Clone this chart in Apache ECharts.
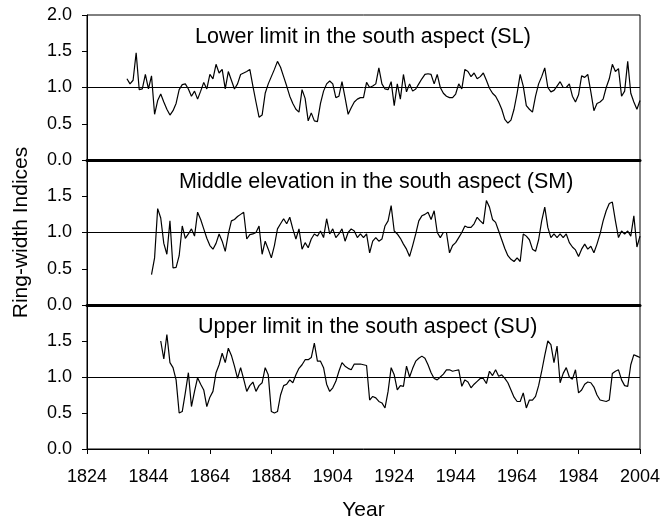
<!DOCTYPE html>
<html>
<head>
<meta charset="utf-8">
<script src="https://cdn.jsdelivr.net/npm/echarts@6/dist/echarts.min.js"></script>
<style>
  html, body { margin: 0; padding: 0; background: #fff; }
  #chart { width: 672px; height: 524px; }
</style>
</head>
<body>
<div id="chart"></div>
<script>
// x axis ticks (years)
const yearTicks = [1824, 1844, 1864, 1884, 1904, 1924, 1944, 1964, 1984, 2004];
const panelTitles = [
  'Lower limit in the south aspect (SL)',
  'Middle elevation in the south aspect (SM)',
  'Upper limit in the south aspect (SU)'
];

// SL: lower limit, annual values from 1837
const slStart = 1837;
const slValues = [
  1.12, 1.05, 1.10, 1.48, 0.97, 0.98, 1.18, 0.98, 1.16, 0.63,
  0.82, 0.91, 0.80, 0.70, 0.62, 0.68, 0.78, 0.97, 1.04, 1.05,
  0.98, 0.88, 0.95, 0.84, 0.95, 1.07, 0.98, 1.18, 1.12, 1.32,
  1.20, 1.25, 0.98, 1.22, 1.10, 0.98, 1.05, 1.18, 1.20, 1.22,
  1.25, 1.02, 0.80, 0.59, 0.62, 0.92, 1.05, 1.15, 1.25, 1.36,
  1.28, 1.15, 1.02, 0.88, 0.78, 0.70, 0.66, 0.97, 0.85, 0.54,
  0.65, 0.54, 0.53, 0.78, 0.95, 1.05, 1.09, 1.05, 0.86, 0.88,
  1.08, 0.86, 0.63, 0.72, 0.80, 0.84, 0.86, 0.86, 1.07, 1.00,
  1.02, 1.05, 1.27, 1.05, 0.98, 0.97, 1.08, 0.75, 1.05, 0.84,
  1.18, 0.94, 1.05, 0.95, 0.98, 1.05, 1.12, 1.18, 1.19, 1.18,
  1.05, 1.18, 1.00, 0.92, 0.88, 0.86, 0.86, 0.91, 1.05, 0.98,
  1.25, 1.22, 1.15, 1.20, 1.12, 1.15, 1.20, 1.10, 0.99, 0.92,
  0.88, 0.80, 0.70, 0.56, 0.51, 0.55, 0.70, 0.92, 1.18, 1.02,
  0.75, 0.70, 0.66, 0.88, 1.05, 1.15, 1.27, 1.00, 0.94, 0.96,
  1.02, 1.08, 1.00, 1.00, 1.05, 0.88, 0.80, 0.90, 1.16, 1.14,
  1.18, 0.94, 0.68, 0.78, 0.80, 0.84, 1.00, 1.12, 1.32, 1.22,
  1.26, 0.88, 0.95, 1.36, 0.92, 0.80, 0.70, 0.82
];

// SM: middle elevation, annual values from 1845
const smStart = 1845;
const smValues = [
  0.42, 0.65, 1.33, 1.20, 0.85, 0.70, 1.16, 0.51, 0.52, 0.68,
  1.09, 0.92, 0.98, 1.05, 0.95, 1.28, 1.18, 1.05, 0.92, 0.82,
  0.77, 0.85, 0.98, 0.88, 0.74, 0.98, 1.16, 1.18, 1.22, 1.25,
  1.28, 0.91, 0.97, 0.98, 1.00, 1.09, 0.70, 0.88, 0.77, 0.65,
  0.82, 1.05, 1.12, 1.19, 1.12, 1.21, 1.05, 0.91, 1.05, 0.77,
  0.86, 0.79, 0.91, 0.98, 0.95, 1.02, 0.93, 1.19, 0.98, 1.05,
  0.93, 0.98, 1.05, 0.88, 1.00, 1.05, 1.02, 0.93, 0.98, 0.93,
  0.98, 0.72, 0.88, 0.93, 0.88, 0.91, 1.09, 1.16, 1.37, 1.02,
  0.98, 0.92, 0.84, 0.77, 0.67, 0.82, 0.98, 1.16, 1.23, 1.25,
  1.28, 1.18, 1.30, 1.00, 0.93, 1.00, 1.00, 0.72, 0.82, 0.86,
  0.93, 1.00, 1.09, 1.07, 1.07, 1.12, 1.21, 1.16, 1.12, 1.44,
  1.35, 1.18, 1.14, 1.02, 0.90, 0.78, 0.68, 0.63, 0.60, 0.65,
  0.60, 0.98, 0.95, 0.90, 0.77, 0.74, 0.90, 1.16, 1.35, 1.07,
  0.93, 0.98, 0.93, 0.98, 0.93, 0.98, 0.86, 0.80, 0.76, 0.67,
  0.77, 0.84, 0.77, 0.81, 0.72, 0.84, 0.98, 1.16, 1.30, 1.40,
  1.42, 1.16, 0.93, 1.02, 0.98, 1.02, 0.95, 1.23, 0.80, 0.95
];

// SU: upper limit, annual values from 1848
const suStart = 1848;
const suValues = [
  1.50, 1.25, 1.59, 1.20, 1.13, 0.96, 0.50, 0.52, 0.78, 1.06,
  0.59, 0.80, 0.99, 0.90, 0.82, 0.59, 0.72, 0.80, 1.06, 1.17,
  1.33, 1.20, 1.40, 1.30, 1.15, 0.98, 1.13, 0.97, 0.80, 0.88,
  0.93, 0.80, 0.88, 0.92, 1.13, 1.03, 0.52, 0.50, 0.52, 0.75,
  0.88, 0.90, 0.96, 0.92, 1.03, 1.12, 1.17, 1.24, 1.24, 1.27,
  1.47, 1.22, 1.22, 1.13, 0.90, 0.80, 0.85, 0.94, 1.08, 1.20,
  1.15, 1.12, 1.10, 1.18, 1.18, 1.18, 1.17, 1.16, 0.68, 0.73,
  0.71, 0.66, 0.64, 0.57, 0.80, 1.13, 1.03, 0.82, 0.88, 0.87,
  1.15, 1.00, 1.12, 1.22, 1.26, 1.29, 1.26, 1.17, 1.06, 0.98,
  0.96, 1.00, 1.04, 1.10, 1.10, 1.08, 1.09, 1.10, 0.87, 0.96,
  0.93, 0.85, 0.90, 0.94, 0.98, 0.98, 0.91, 1.08, 1.02, 1.10,
  1.01, 1.03, 0.98, 0.92, 0.82, 0.72, 0.66, 0.66, 0.78, 0.57,
  0.68, 0.68, 0.73, 0.88, 1.08, 1.30, 1.50, 1.45, 1.20, 1.43,
  0.92, 1.05, 1.13, 1.00, 0.97, 1.10, 0.78, 0.82, 0.90, 0.93,
  0.92, 0.86, 0.75, 0.68, 0.67, 0.66, 0.68, 1.05, 1.08, 1.10,
  0.96, 0.88, 0.87, 1.17, 1.31, 1.29, 1.27
];

const series = [
  [slStart, slValues],
  [smStart, smValues],
  [suStart, suValues]
];

const font = '"Liberation Sans", Arial, sans-serif';
const tickFont = '"Liberation Sans Narrow", "Arial Narrow", "Liberation Sans", Arial, sans-serif';
const chart = echarts.init(document.getElementById('chart'));

const grids = [
  { left: 87, right: 32, top: 15, height: 145 },
  { left: 87, right: 32, top: 160, height: 145 },
  { left: 87, right: 32, top: 305, height: 144 }
].map(g => Object.assign(g, { show: true, borderColor: '#000', borderWidth: 1 }));

const xAxes = grids.map((g, i) => {
  const last = i === 2;
  return {
    type: 'value',
    gridIndex: i,
    min: 1824,
    max: 2004,
    interval: 20,
    axisLine: { show: true, lineStyle: { color: '#000', width: last ? 1 : 3 } },
    axisTick: { show: last, inside: false, length: 5, lineStyle: { color: '#000' } },
    axisLabel: {
      show: last, color: '#000', fontSize: 18, fontFamily: tickFont, margin: 19,
      formatter: v => yearTicks.includes(v) ? String(v) : ''
    },
    splitLine: { show: false },
    name: last ? 'Year' : '',
    nameLocation: 'middle',
    nameGap: 51,
    nameTextStyle: { color: '#000', fontSize: 21, fontFamily: font }
  };
});

const yAxes = grids.map((g, i) => ({
  type: 'value',
  gridIndex: i,
  min: 0,
  max: 2,
  interval: 0.5,
  axisLine: { show: true, lineStyle: { color: '#000', width: 1 } },
  axisTick: { show: true, inside: false, length: 5, lineStyle: { color: '#000' } },
  axisLabel: {
    color: '#000', fontSize: 18, fontFamily: tickFont, margin: 15,
    formatter: v => (i > 0 && v === 2) ? '' : v.toFixed(1)
  },
  splitLine: { show: false },
  name: i === 1 ? 'Ring-width Indices' : '',
  nameLocation: 'middle',
  nameGap: 55,
  nameTextStyle: { color: '#000', fontSize: 21, fontFamily: font }
}));

const titleLeft = [195, 179, 198];
const titles = panelTitles.map((t, i) => ({
  text: t,
  left: titleLeft[i],
  top: 15 + i * 145 + 11,
  padding: 0,
  textStyle: { color: '#000', fontSize: 21.5, fontWeight: 'normal', fontFamily: font }
}));

chart.setOption({
  animation: false,
  backgroundColor: '#fff',
  title: titles,
  grid: grids,
  xAxis: xAxes,
  yAxis: yAxes,
  series: series.map(([start, vals], i) => ({
    type: 'line',
    xAxisIndex: i,
    yAxisIndex: i,
    showSymbol: false,
    symbol: 'none',
    lineStyle: { color: '#000', width: 1.2 },
    data: vals.map((v, k) => [start + k, v]),
    markLine: {
      silent: true,
      symbol: 'none',
      label: { show: false },
      lineStyle: { color: '#000', width: 1, type: 'solid' },
      data: [{ yAxis: 1 }]
    }
  }))
});
</script>
</body>
</html>
